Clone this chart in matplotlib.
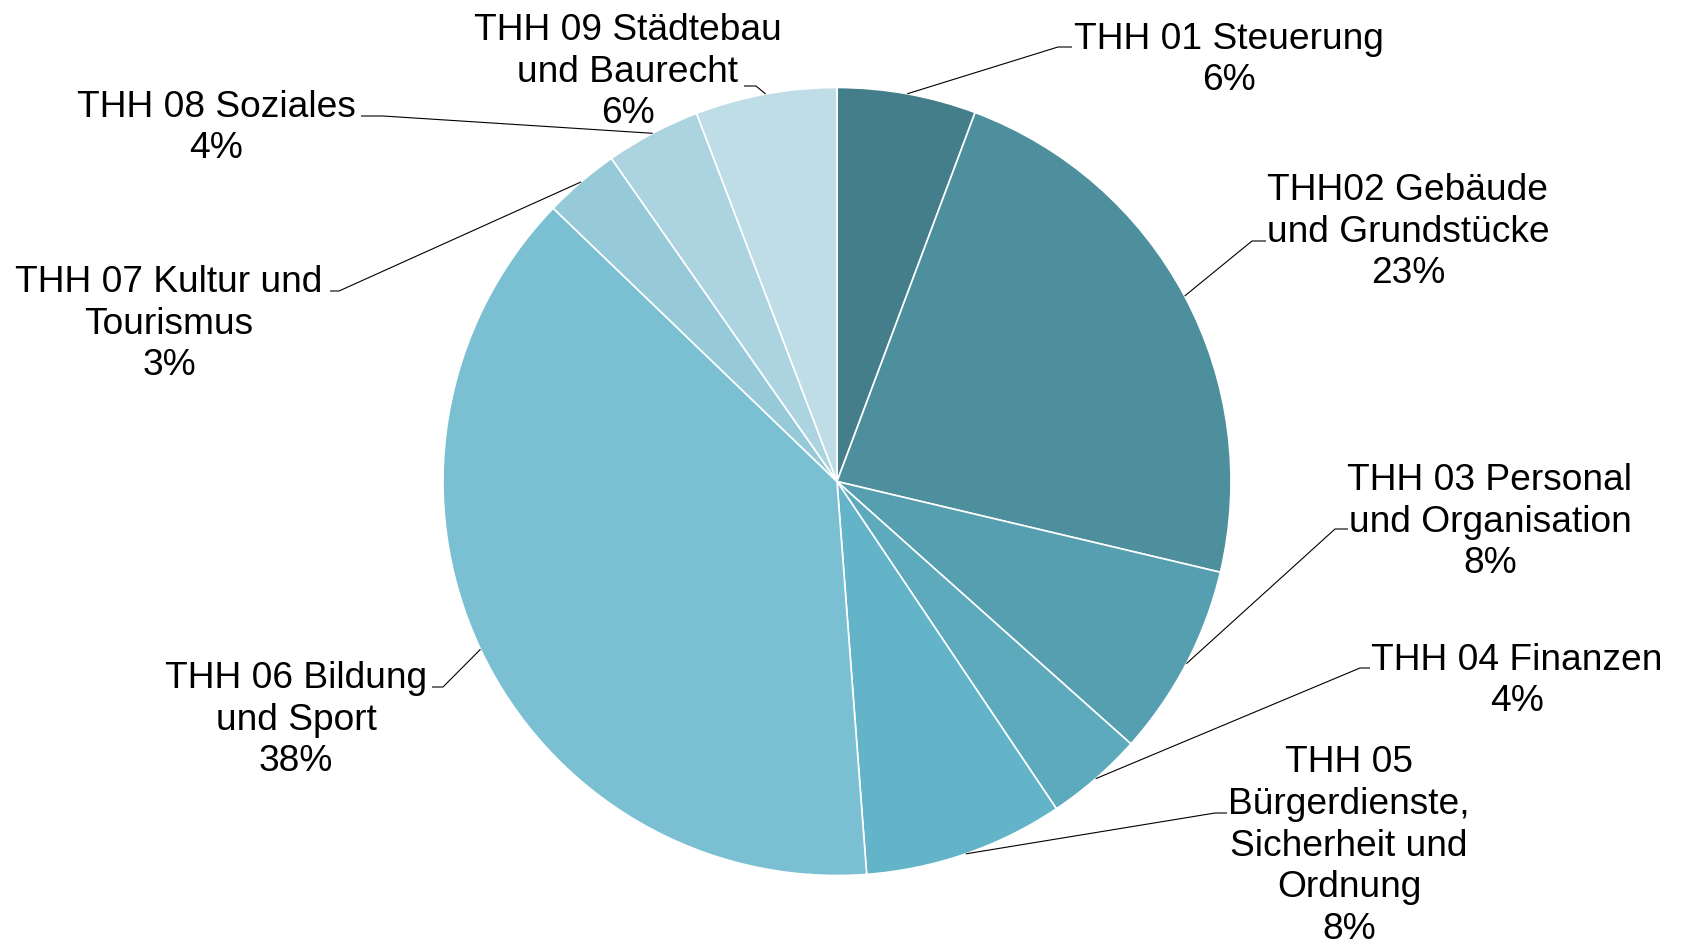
import numpy as np
import matplotlib
matplotlib.use("Agg")
import matplotlib.pyplot as plt

# data
labels = ["THH 01 Steuerung",
          "THH02 Gebäude\nund Grundstücke",
          "THH 03 Personal\nund Organisation",
          "THH 04 Finanzen",
          "THH 05\nBürgerdienste,\nSicherheit und\nOrdnung",
          "THH 06 Bildung\nund Sport",
          "THH 07 Kultur und\nTourismus",
          "THH 08 Soziales",
          "THH 09 Städtebau\nund Baurecht"]
values = [5.7, 23.0, 7.9, 4.0, 8.2, 38.4, 3.1, 3.9, 5.8]
colors = ["#447e8b", "#4e8f9e", "#569fb0", "#5daabc", "#63b4c8",
          "#7bc0d2", "#97cad9", "#abd3e0", "#bfdde6"]

# layout in pixels (top-left origin)
W, H = 1683, 944
cx, cy, R = 837, 481.5, 394
text_pos = [(1229, 60), (1408, 232), (1490, 522), (1517, 681), (1349, 846),
            (296, 720), (169, 324), (216, 128), (628, 72)]
elbows = [((1058, 47), (1072, 47)), ((1252, 241), (1266, 241)),
          ((1335, 529), (1348, 529)), ((1360, 668), (1370, 668)),
          ((1215, 813), (1227, 813)), ((443, 687), (432, 687)),
          ((339, 291), (330, 291)), ((383, 116), (361, 116)),
          ((756, 86), (744, 86))]

plt.rcParams['font.family'] = ['Liberation Sans', 'DejaVu Sans']

fig = plt.figure(figsize=(W / 100, H / 100), dpi=100)
ax = fig.add_axes([0, 0, 1, 1])

wedges, _ = ax.pie(values, colors=colors, startangle=90, counterclock=False,
                   center=(cx, H - cy), radius=R,
                   wedgeprops=dict(edgecolor='white', linewidth=1.2))
ax.set_xlim(0, W)
ax.set_ylim(0, H)
ax.set_aspect('equal')
ax.axis('off')

total = sum(values)
for w, lab, v, (tx, ty), (e1, e2) in zip(wedges, labels, values, text_pos, elbows):
    mid = np.deg2rad((w.theta1 + w.theta2) / 2)
    sx = cx + R * np.cos(mid)
    sy = (H - cy) + R * np.sin(mid)
    ax.plot([sx, e1[0], e2[0]], [sy, H - e1[1], H - e2[1]],
            color='black', lw=0.8, solid_capstyle='butt')
    ax.text(tx, H - ty, lab + "\n" + "%.0f%%" % (v / total * 100),
            ha='center', va='center', multialignment='center',
            fontsize=26.7, linespacing=1.25, color='black')

fig.savefig("out.png", dpi=100)
